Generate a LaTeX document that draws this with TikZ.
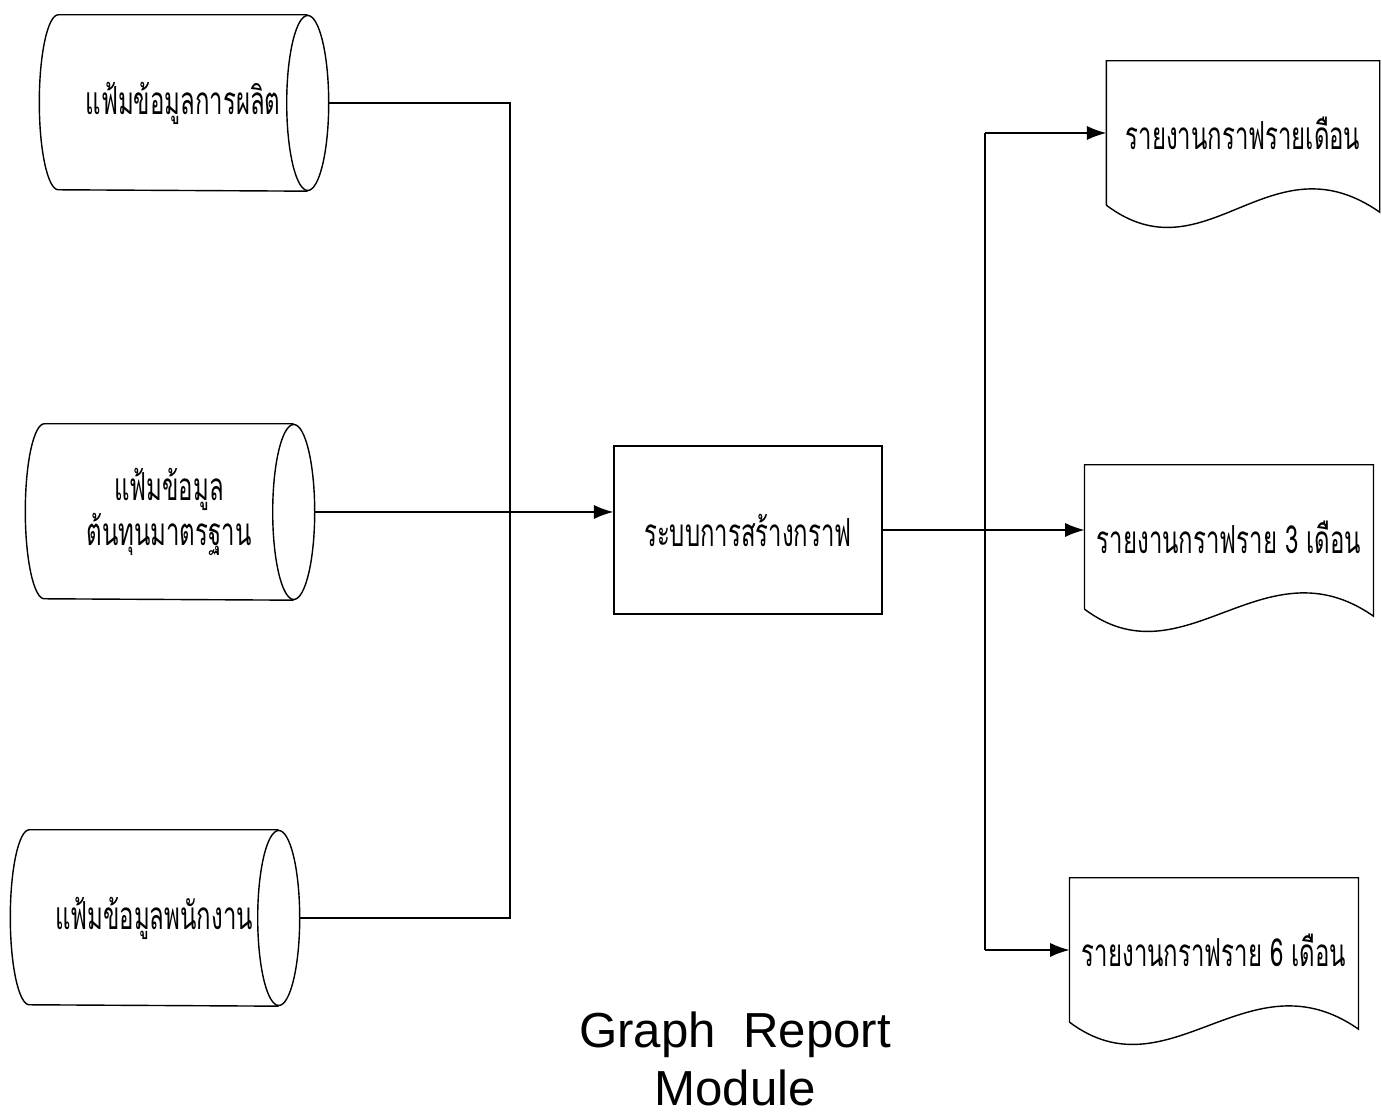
\documentclass[tikz,border=0pt]{standalone}
\usepackage{fontspec}
\newfontfamily\thaifont[Script=Thai,FakeStretch=0.62]{Loma}
\newfontfamily\titlefont{Liberation Sans}
\usetikzlibrary{arrows.meta,calc}
\tikzset{>={Latex[length=5.5pt,width=4pt]}}

\begin{document}
\begin{tikzpicture}[
    thaitext/.style={font=\thaifont\fontsize{11}{13}\selectfont, align=center},
    filestore/.style={rectangle, thaitext, minimum width=2.48cm, minimum height=1.75cm, inner sep=0pt},
    procbox/.style={rectangle, draw, thaitext, minimum width=2.68cm, minimum height=1.68cm},
    reportdoc/.style={rectangle, thaitext, minimum width=2.72cm, minimum height=1.43cm}
  ]
  \useasboundingbox (0,0) rectangle (13.82,11.15);

  % data files
  \node[filestore] (prod) at (1.83,10.12) {แฟ้มข้อมูลการผลิต};
  \node[filestore] (cost) at (1.69,6.03) {แฟ้มข้อมูล\\ต้นทุนมาตรฐาน};
  \node[filestore] (staff) at (1.54,1.97) {แฟ้มข้อมูลพนักงาน};

  \foreach \f in {prod,cost,staff}
  {
    \draw (\f.north east) -- (\f.north west)
      arc[start angle=90, end angle=270, x radius=0.19, y radius=0.875] -- (\f.south east);
    \draw (\f.east) ellipse [x radius=0.21, y radius=0.875];
  }

  % graph system
  \node[procbox] (graph) at (7.48,5.85) {ระบบการสร้างกราฟ};

  % reports
  \node[reportdoc] (rep1) at (12.43,9.82) {รายงานกราฟรายเดือน};
  \node[reportdoc] (rep2) at (12.29,5.78) {รายงานกราฟราย 3 เดือน};
  \node[reportdoc] (rep3) at (12.14,1.65) {รายงานกราฟราย 6 เดือน};

  \foreach \d in {rep1,rep2,rep3}
    \draw (\d.south west) -- (\d.north west) -- (\d.north east) -- ($(\d.south east)+(0,-0.07)$)
      .. controls ($(\d.south east)+(-1.1,0.7)$) and ($(\d.south west)+(1.0,-0.75)$) .. (\d.south west);

  \node[font=\titlefont\fontsize{14}{16.5}\selectfont, align=center] (title) at (7.35,0.56) {Graph\ \ Report\\Module};

  % inputs
  \coordinate (jl) at (5.10,0);
  \draw ([xshift=0.21cm]prod.east) -- (prod.east -| jl) -- (staff.east -| jl) -- ([xshift=0.21cm]staff.east);
  \draw[->] ([xshift=0.21cm]cost.east) -- (cost.east -| graph.west);

  % outputs
  \coordinate (jr) at (9.85,0);
  \draw[->] (graph.east) -- (graph.east -| rep2.west);
  \draw (jr |- rep1.west) -- (jr |- rep3.west);
  \draw[->] (jr |- rep1.west) -- (rep1.west);
  \draw[->] (jr |- rep3.west) -- (rep3.west);
\end{tikzpicture}
\end{document}
